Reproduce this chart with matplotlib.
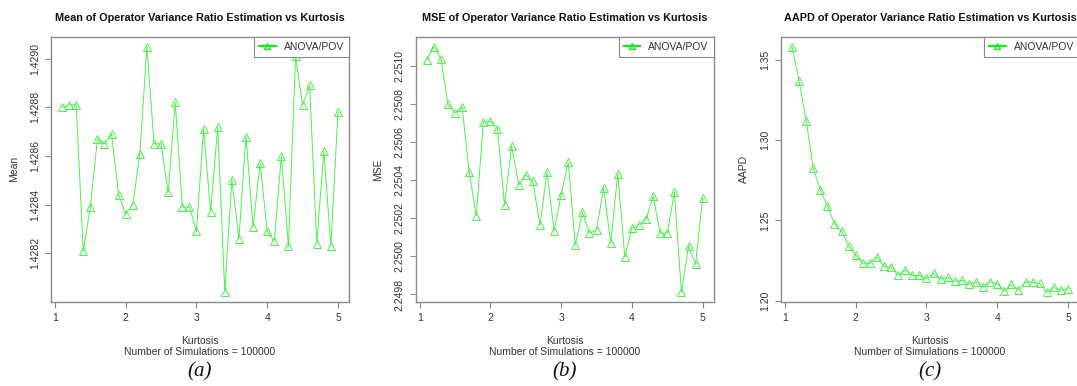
import numpy as np
import matplotlib
matplotlib.use("Agg")
import matplotlib.pyplot as plt
from matplotlib.lines import Line2D

plt.rcParams["font.family"] = ["Liberation Sans", "DejaVu Sans"]

# Kurtosis grid used by the simulation
kurtosis = np.round(np.arange(1.1, 5.01, 0.1), 1)

mean_est = [1.42880, 1.42881, 1.42881, 1.42821, 1.42839, 1.42867, 1.42865, 1.42869,
            1.42844, 1.42836, 1.42840, 1.42861, 1.42905, 1.42865, 1.42865, 1.42845,
            1.42882, 1.42839, 1.42839, 1.42829, 1.42871, 1.42837, 1.42872, 1.42804,
            1.42850, 1.42826, 1.42868, 1.42831, 1.42857, 1.42829, 1.42825, 1.42860,
            1.42823, 1.42901, 1.42881, 1.42889, 1.42824, 1.42862, 1.42823, 1.42878]

mse_est = [2.251035, 2.251105, 2.251040, 2.250803, 2.250754, 2.250786, 2.250444, 2.250214,
           2.250707, 2.250712, 2.250672, 2.250270, 2.250581, 2.250378, 2.250430, 2.250395,
           2.250165, 2.250444, 2.250135, 2.250325, 2.250496, 2.250061, 2.250232, 2.250123,
           2.250140, 2.250362, 2.250072, 2.250435, 2.249996, 2.250149, 2.250165, 2.250196,
           2.250317, 2.250121, 2.250123, 2.250338, 2.249812, 2.250053, 2.249961, 2.250310]

aapd_est = [1.35833, 1.33667, 1.31208, 1.28250, 1.26885, 1.25896, 1.24771, 1.24313,
            1.23417, 1.22813, 1.22333, 1.22313, 1.22729, 1.22125, 1.22083, 1.21583,
            1.21896, 1.21563, 1.21563, 1.21375, 1.21708, 1.21333, 1.21458, 1.21188,
            1.21250, 1.21021, 1.21146, 1.20854, 1.21167, 1.21042, 1.20604, 1.21000,
            1.20667, 1.21167, 1.21146, 1.21063, 1.20521, 1.20813, 1.20646, 1.20729]

panels = [
    ("Mean", mean_est, [1.4282, 1.4284, 1.4286, 1.4288, 1.4290], "{:.4f}", "(a)"),
    ("MSE", mse_est, [2.2498, 2.2500, 2.2502, 2.2504, 2.2506, 2.2508, 2.2510], "{:.4f}", "(b)"),
    ("AAPD", aapd_est, [1.20, 1.25, 1.30, 1.35], "{:.2f}", "(c)"),
]

W, H = 1077, 386
lefts = [51, 415.7, 781]
ax_w, top_px, bot_px = 298, 36.7, 302

green = "#4cf04c"
frame = "#8a8a8a"
txt = "#333333"

fig = plt.figure(figsize=(W / 100, H / 100), dpi=100)

for (name, vals, yticks, fmt, tag), left in zip(panels, lefts):
    ax = fig.add_axes([left / W, 1 - bot_px / H, ax_w / W, (bot_px - top_px) / H])
    ax.plot(kurtosis, vals, color=green, lw=0.7, marker="^", ms=5.5,
            mfc="none", mec=green, mew=0.7)

    # R-style 4% padding on both axes
    lo, hi = min(vals), max(vals)
    pad = (hi - lo) * 0.04
    ax.set_ylim(lo - pad, hi + pad)
    ax.set_xlim(0.944, 5.156)

    ax.set_xticks([1, 2, 3, 4, 5])
    ax.set_xticklabels(["1", "2", "3", "4", "5"])
    ax.set_yticks(yticks)
    ax.set_yticklabels([fmt.format(v) for v in yticks], rotation=90, va="center")
    ax.tick_params(direction="out", length=4, width=0.8, color=frame,
                   labelsize=7.5, labelcolor=txt, pad=4)
    for s in ax.spines.values():
        s.set_color(frame)
        s.set_linewidth(1.0)

    ax.set_title(f"{name} of Operator Variance Ratio Estimation vs Kurtosis",
                 fontsize=7.8, fontweight="bold", color="#111111", pad=11)
    ax.set_ylabel(name, fontsize=7.5, color=txt, labelpad=8)

    handle = Line2D([], [], color="#11ee11", lw=1.6, marker="^", ms=5,
                    mfc="none", mec="#11ee11", mew=1.0)
    leg = ax.legend([handle], ["ANOVA/POV"], loc="upper right", borderaxespad=0,
                    fancybox=False, framealpha=1, edgecolor=frame, fontsize=7.5,
                    handlelength=1.6, handletextpad=0.75, borderpad=0.5)
    leg.get_frame().set_linewidth(0.8)
    for t in leg.get_texts():
        t.set_color(txt)

    cx = (left + ax_w / 2) / W
    fig.text(cx, 1 - 341 / H, "Kurtosis", ha="center", va="center",
             fontsize=7.5, color=txt)
    fig.text(cx, 1 - 352 / H, "Number of Simulations = 100000", ha="center",
             va="center", fontsize=7.5, color=txt)
    fig.text(cx, 1 - 372 / H, tag, ha="center", va="center", fontsize=15,
             family="Liberation Serif", style="italic", color="#111111")

fig.savefig("out.png", dpi=100, facecolor="white")
